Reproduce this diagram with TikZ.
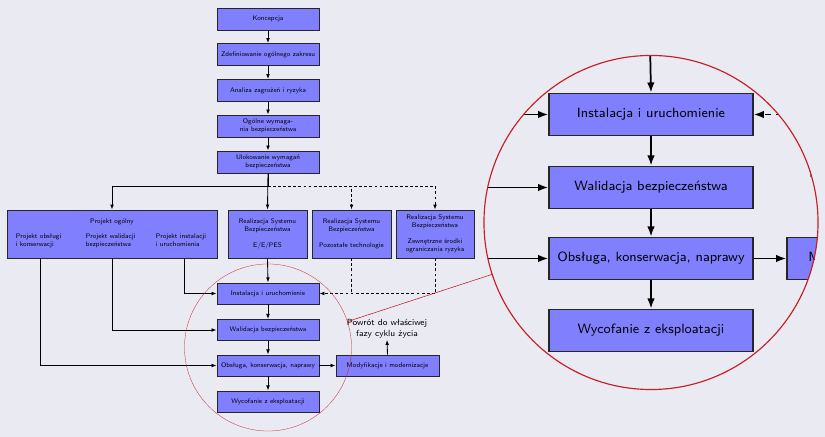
\documentclass[tikz,border=0pt]{standalone}
\usetikzlibrary{arrows.meta,spy}
\definecolor{bgc}{RGB}{234,234,242}
\definecolor{spyred}{RGB}{200,30,40}
\begin{document}
\begin{tikzpicture}[x=0.69pt,y=-0.69pt,
  spy using outlines={circle, draw=spyred, line width=0.5pt, magnification=2, size=230.5pt, connect spies},
  box/.style={draw=black!85, line width=0.5pt, fill=blue!50, font=\sffamily\fontsize{4.65}{5.6}\selectfont, align=center, inner sep=0pt},
  chainbox/.style={box, minimum width=70.4pt, minimum height=15.2pt},
  realbox/.style={box, minimum width=54.5pt, minimum height=33.1pt},
  plain/.style={font=\sffamily\fontsize{4.65}{5.6}\selectfont, align=left, inner sep=0pt},
  arr/.style={line width=0.6pt, -{Latex[length=3.5pt,width=2.6pt]}},
  ln/.style={line width=0.6pt},
  dsh/.style={dash pattern=on 2pt off 1.5pt}]
\fill[bgc] (0,0) rectangle (825,437);
\useasboundingbox (0,0) rectangle (825,437);

% top chain
\node[chainbox] (k1) at (268,19) {Koncepcja};
\node[chainbox] (k2) at (268,54.5) {Zdefiniowanie ogólnego zakresu};
\node[chainbox] (k3) at (268,90.5) {Analiza zagrożeń i ryzyka};
\node[chainbox] (k4) at (268,126) {Ogólne wymaga-\\nia bezpieczeństwa};
\node[chainbox] (k5) at (268,162) {Ulokowanie wymagań\\bezpieczeństwa};

% realization row
\node[box, minimum width=144.9pt, minimum height=33.1pt] (po) at (112,234) {};
\node[plain, anchor=center] (pot) at (112,222) {Projekt ogólny};
\node[plain, anchor=north west] (po1) at (15.5,233.5) {Projekt obsługi\\i konserwacji};
\node[plain, anchor=north west] (po2) at (85.5,233.5) {Projekt walidacji\\bezpieczeństwa};
\node[plain, anchor=north west] (po3) at (155.5,233.5) {Projekt instalacji\\i uruchomienia};

\node[realbox] (ee) at (267.5,234) {Realizacja Systemu\\Bezpieczeństwa\\[5.6pt]E/E/PES};
\node[realbox] (poz) at (351.5,234) {Realizacja Systemu\\Bezpieczeństwa\\[5.6pt]Pozostałe technologie};
\node[realbox, minimum width=53.8pt] (zew) at (435,234) {Realizacja Systemu\\Bezpieczeństwa\\[5.6pt]Zewnętrzne środki\\ograniczania ryzyka};

% bottom chain
\node[chainbox, minimum height=14.6pt] (inst) at (268,293.5) {Instalacja i uruchomienie};
\node[chainbox, minimum height=14.6pt] (wal) at (268,330) {Walidacja bezpieczeństwa};
\node[chainbox, minimum height=14.6pt] (obs) at (268,365.5) {Obsługa, konserwacja, naprawy};
\node[chainbox, minimum height=14.6pt] (wyc) at (268,401.5) {Wycofanie z eksploatacji};
\node[chainbox, minimum width=71.1pt, minimum height=14.6pt] (mod) at (387.5,365.5) {Modyfikacje i modernizacje};
\node[font=\sffamily\fontsize{6.1}{7.8}\selectfont, align=center, inner sep=1pt] (pow) at (387,328.5) {Powrót do właściwej\\fazy cyklu życia};

% connectors top chain
\draw[arr] (k1) -- (k2);
\draw[arr] (k2) -- (k3);
\draw[arr] (k3) -- (k4);
\draw[arr] (k4) -- (k5);

\coordinate (j) at (268,186);
\draw[ln] (k5.south) -- (j);
\draw[arr] (j) -| (po.north);
\draw[arr] (k5.south) -- (ee.north);
\draw[arr, dsh] (j) -| (poz.north);
\draw[arr, dsh] (j) -| (zew.north);

% from Projekt ogólny
\coordinate (d1) at (40,0);
\coordinate (d2) at (112.5,0);
\coordinate (d3) at (184,0);
\draw[arr] (po.south -| d1) |- (obs.west);
\draw[arr] (po.south -| d2) |- (wal.west);
\draw[arr] (po.south -| d3) |- (inst.west);

\draw[arr] (ee.south) -- (inst.north);
\draw[ln, dsh] (poz.south) -- (poz.south |- inst.east);
\draw[arr, dsh] (zew.south) |- (inst.east);

% bottom chain
\draw[arr] (inst) -- (wal);
\draw[arr] (wal) -- (obs);
\draw[arr] (obs) -- (wyc);
\draw[arr] (obs) -- (mod);
\draw[arr] (mod.north) -- (pow.south);

\spy on (268,347.5) in node at (651,222.5);
\end{tikzpicture}
\end{document}
